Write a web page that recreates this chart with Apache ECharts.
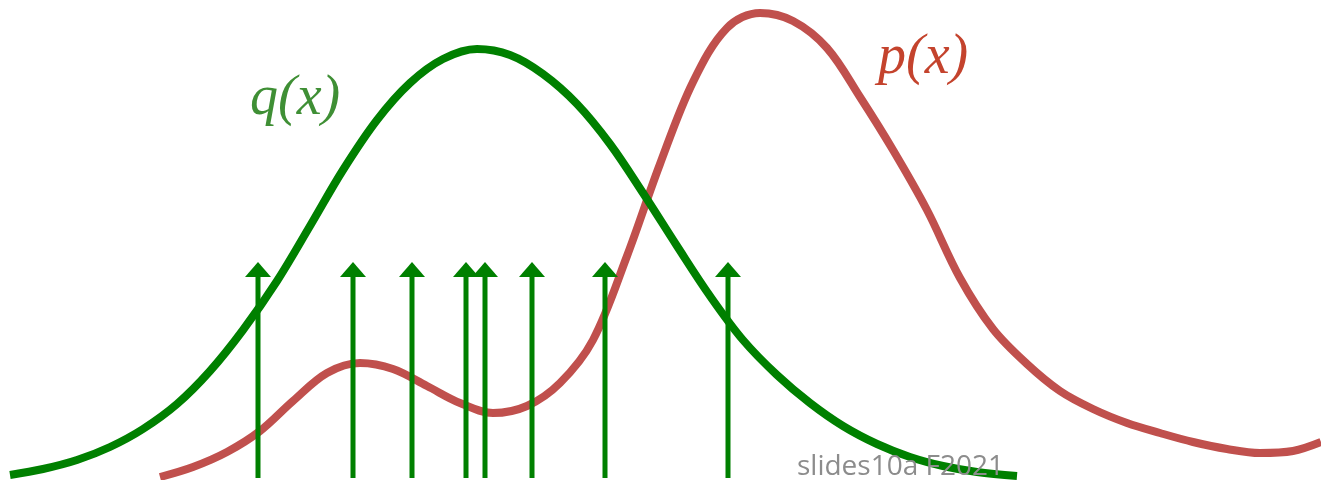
<!DOCTYPE html>
<html>
<head>
<meta charset="utf-8">
<script src="https://cdn.jsdelivr.net/npm/echarts@6/dist/echarts.min.js"></script>
<style>
  html, body { margin: 0; padding: 0; background: #fff; }
  #chart { width: 1321px; height: 480px; }
</style>
</head>
<body>
<div id="chart"></div>
<script>
// q(x): proposal density (green), heights above the bottom edge
const qX = [10, 43, 77, 110, 143, 177, 210, 243, 277, 310, 343, 377, 410, 443, 477, 510, 543, 577, 610, 643, 677, 710, 743, 777, 810, 843, 877, 910, 943, 977, 1017];
const qY = [5, 11, 20, 33, 51, 76, 109, 150, 199, 254, 310, 360, 397, 421, 431, 425, 406, 376, 336, 287, 234, 184, 140, 105, 77, 54, 36, 23, 14, 8, 4];

// p(x): target density (red)
const pX = [160, 193, 227, 260, 293, 327, 360, 393, 427, 460, 493, 527, 560, 593, 627, 660, 693, 727, 760, 793, 827, 860, 893, 927, 960, 993, 1027, 1060, 1093, 1127, 1160, 1193, 1227, 1260, 1293, 1321];
const pY = [3, 13, 28, 49, 79, 107, 117, 111, 94, 77, 67, 74, 97, 140, 224, 316, 398, 452, 467, 459, 432, 383, 330, 270, 202, 151, 116, 89, 71, 57, 47, 38, 31, 27, 29, 38];

// samples drawn from q(x)
const sampleX = [258, 353, 412, 466, 485, 532, 605, 728];
const arrowLow = 2;
const arrowHigh = 218;

const chart = echarts.init(document.getElementById('chart'));

function arrowItem(params, api) {
  const base = api.coord([api.value(0), api.value(1)]);
  const tip = api.coord([api.value(0), api.value(2)]);
  const headLen = 15, headHalf = 13;
  return {
    type: 'group',
    children: [
      {
        type: 'line',
        shape: { x1: base[0], y1: base[1], x2: tip[0], y2: tip[1] + headLen },
        style: { stroke: '#008000', lineWidth: 5 }
      },
      {
        type: 'polygon',
        shape: { points: [[tip[0], tip[1]], [tip[0] - headHalf, tip[1] + headLen], [tip[0] + headHalf, tip[1] + headLen]] },
        style: { fill: '#008000' }
      }
    ]
  };
}

chart.setOption({
  animation: false,
  backgroundColor: '#fff',
  grid: { left: 0, right: 0, top: 0, bottom: 0 },
  xAxis: { type: 'value', min: 0, max: 1321, show: false },
  yAxis: { type: 'value', min: 0, max: 480, show: false },
  series: [
    {
      name: 'p(x)',
      type: 'line',
      data: pX.map((x, i) => [x, pY[i]]),
      smooth: 0.35,
      showSymbol: false,
      lineStyle: { color: '#c0504d', width: 8 },
      z: 1
    },
    {
      name: 'q(x)',
      type: 'line',
      data: qX.map((x, i) => [x, qY[i]]),
      smooth: 0.35,
      showSymbol: false,
      lineStyle: { color: '#008000', width: 8 },
      z: 2
    },
    {
      name: 'samples',
      type: 'custom',
      renderItem: arrowItem,
      data: sampleX.map(x => [x, arrowLow, arrowHigh]),
      z: 3
    }
  ],
  graphic: [
    {
      type: 'text', left: 250, top: 71, z: 10,
      style: { text: 'q(x)', font: 'italic 56px "Liberation Serif"', fill: '#3f8f35' }
    },
    {
      type: 'text', left: 878, top: 30, z: 10,
      style: { text: 'p(x)', font: 'italic 56px "Liberation Serif"', fill: '#c4432d' }
    },
    {
      type: 'text', left: 797, top: 453, z: 10,
      style: { text: 'slides10a F2021', font: '28px "Open Sans"', fill: '#8c8c8c' }
    }
  ]
});
</script>
</body>
</html>
